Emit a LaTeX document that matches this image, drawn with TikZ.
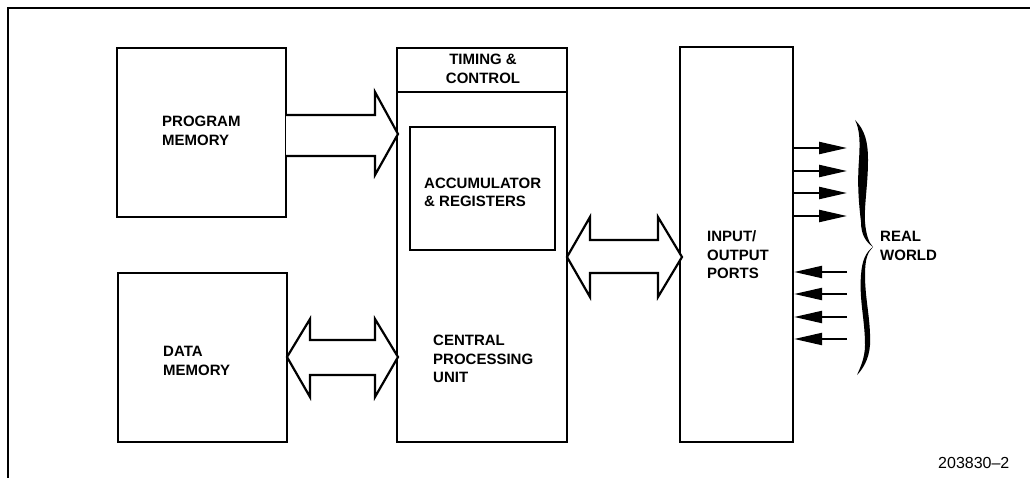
\documentclass[tikz,border=0pt]{standalone}
\usepackage{fontspec}
\setmainfont{Liberation Sans}
\usetikzlibrary{arrows.meta}
\begin{document}
\begin{tikzpicture}[x=1pt,y=-1pt,
  box/.style={draw,line width=2.2pt,inner sep=0pt,rectangle},
  lbl/.style={inner sep=0pt,font=\bfseries\fontsize{15}{18.5}\selectfont,align=left,anchor=west},
  bus/.style={draw,line width=2.2pt,line join=miter,fill=white},
  sig/.style={line width=2.2pt,-{Triangle[length=28pt,width=12pt]}},
]
\useasboundingbox (0,0) rectangle (1030,478);
\draw[line width=1.3pt] (8,478) -- (8,8) -- (1030,8);

% boxes
\node[box,minimum width=169pt,minimum height=169pt] (pm) at (201.5,132.5) {};
\node[box,minimum width=169pt,minimum height=169pt] (dm) at (202.5,357.5) {};
\node[box,minimum width=170pt,minimum height=394pt] (cpu) at (482,245) {};
\node[box,minimum width=145pt,minimum height=123pt] (acc) at (482.5,188.5) {};
\node[box,minimum width=113pt,minimum height=395pt] (io) at (736.5,244.5) {};
\draw[line width=2.2pt] (397,92) -- (567,92);

% labels
\node[lbl] (pmt) at (162,131) {PROGRAM\\MEMORY};
\node[lbl] (dmt) at (163,361) {DATA\\MEMORY};
\node[lbl,anchor=center,align=center] (tct) at (483,69) {TIMING \&\\CONTROL};
\node[lbl] (acct) at (424,192.5) {ACCUMULATOR\\\& REGISTERS};
\node[lbl] (cput) at (433,359) {CENTRAL\\PROCESSING\\UNIT};
\node[lbl] (iot) at (707,255) {INPUT/\\OUTPUT\\PORTS};
\node[lbl] (rwt) at (880,246) {REAL\\WORLD};
\node[inner sep=0pt,anchor=west,font=\fontsize{16}{19}\selectfont] (fig) at (938,463) {203830–2};

% hollow bus arrows
\draw[bus] (286,115) -- (375,115) -- (375,92) -- (398,134) -- (375,175) -- (375,156) -- (286,156);
\draw[bus] (287,357) -- (310,319) -- (310,340) -- (375,340) -- (375,319) -- (398,357)
  -- (375,397) -- (375,375) -- (310,375) -- (310,397) -- cycle;
\draw[bus] (567,257) -- (590,217) -- (590,240) -- (658,240) -- (658,217) -- (682,257)
  -- (658,297) -- (658,273) -- (590,273) -- (590,297) -- cycle;

% output signals
\foreach \i/\yy in {1/148,2/171,3/193,4/216}{
  \coordinate (o\i) at (847,\yy);
  \draw[sig] (io.east |- o\i) -- (o\i);
}
% input signals
\foreach \i/\yy in {1/272,2/294,3/317,4/339}{
  \coordinate (in\i) at (847,\yy);
  \draw[sig] (in\i) -- (io.east |- in\i);
}

% brace
\fill (855,120) .. controls (865,130) and (868,142) .. (868,160)
  .. controls (868,185) and (864,205) .. (865,222)
  .. controls (866,235) and (869,243) .. (873,247)
  .. controls (868,252) and (865,258) .. (865,275)
  .. controls (865,300) and (871,320) .. (870,345)
  .. controls (869,360) and (862,370) .. (857,375)
  .. controls (860,368) and (865,358) .. (865,345)
  .. controls (865,320) and (859,300) .. (861,275)
  .. controls (862,260) and (866,252) .. (873,247)
  .. controls (866,242) and (861,235) .. (861,222)
  .. controls (859,205) and (857,185) .. (859,160)
  .. controls (860,142) and (860,130) .. (855,120) -- cycle;
\end{tikzpicture}
\end{document}
